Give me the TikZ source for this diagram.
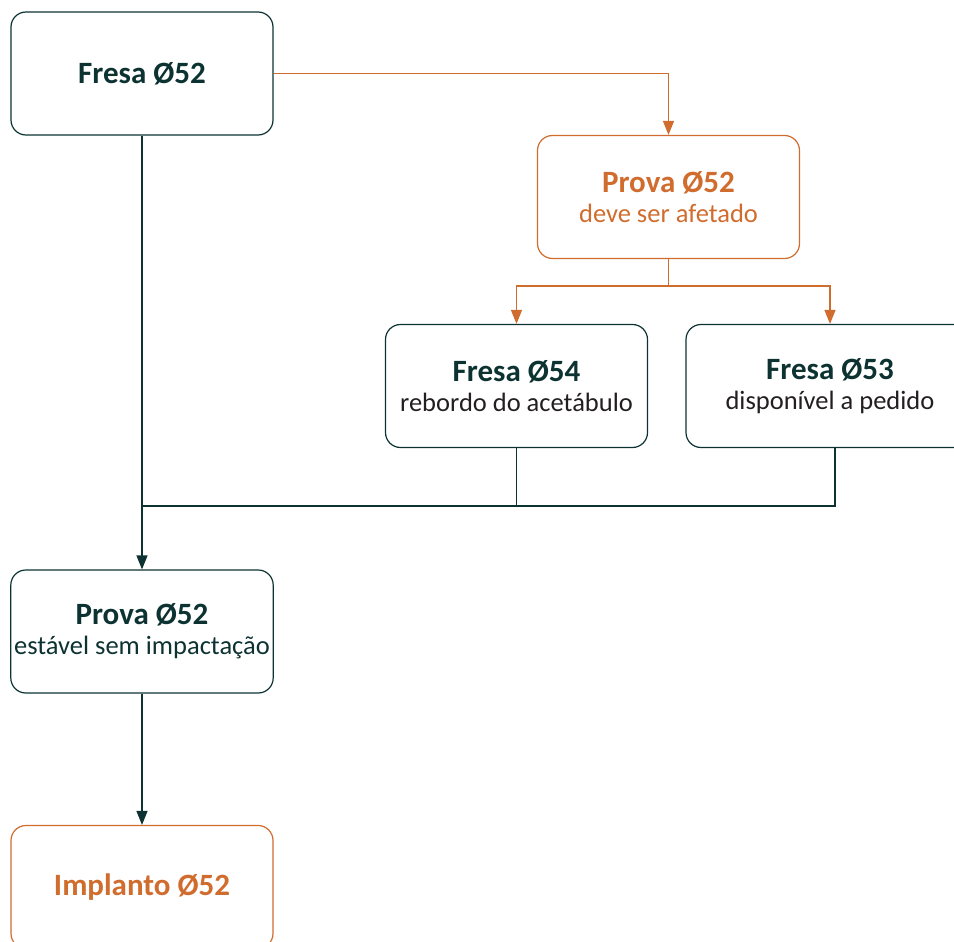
\documentclass[tikz,border=0pt]{standalone}
\usepackage{fontspec}
\setmainfont{Carlito}
\usepackage{tikz}
\usetikzlibrary{arrows.meta}
\definecolor{deepteal}{HTML}{0D3232}
\definecolor{burnt}{HTML}{D06C2D}
\definecolor{ink}{HTML}{231F20}
\tikzset{
  box/.style={draw=deepteal,line width=1.2pt,rounded corners=15pt,minimum width=262pt,minimum height=123pt,align=center,text=deepteal,font=\fontsize{26.5}{30}\selectfont},
  hot/.style={box,draw=burnt,text=burnt},
  dk/.style={draw=deepteal,line width=1.3pt},
  og/.style={draw=burnt,line width=1.4pt},
  tip/.style={-{Triangle[length=14pt,width=11pt]}}
}
\newcommand{\ttl}[1]{{\fontsize{31}{30}\selectfont\bfseries #1}}
\begin{document}
\begin{tikzpicture}[x=1pt,y=-1pt]
                      \useasboundingbox (0,0) rectangle (954,942);
                      \clip (0,0) rectangle (954,942);
                      \node[box] (fresaA) at (142,73.5) {\ttl{Fresa Ø52}};
                      \node[hot] (provaB) at (668.5,197) {\ttl{Prova Ø52}\\deve ser afetado};
                      \node[box] (fresaC) at (516.5,386) {\ttl{Fresa Ø54}\\\textcolor{ink}{rebordo do acetábulo}};
                      \node[box,minimum width=288pt] (fresaD) at (830,386) {\ttl{Fresa Ø53}\\\textcolor{ink}{disponível a pedido}};
                      \node[box] (provaE) at (142,631.5) {\ttl{Prova Ø52}\\estável sem impactação};
                      \node[hot] (implante) at (142,887) {\ttl{Implanto Ø52}};
                      \coordinate (split) at (668.5,286);
                      \coordinate (merge) at (142,506);
                      \draw[og,tip] (fresaA.east) -| (provaB.north);
                      \draw[og] (provaB.south) -- (split);
                      \draw[og,tip] (split) -| (fresaC.north);
                      \draw[og,tip] (split) -| (fresaD.north);
                      \draw[dk] (fresaC.south) |- (merge);
                      \draw[dk] ([xshift=5pt]fresaD.south) |- (merge);
                      \draw[dk,tip] (fresaA.south) -- (provaE.north);
                      \draw[dk,tip] (provaE.south) -- (implante.north);
                  \end{tikzpicture}
\end{document}
